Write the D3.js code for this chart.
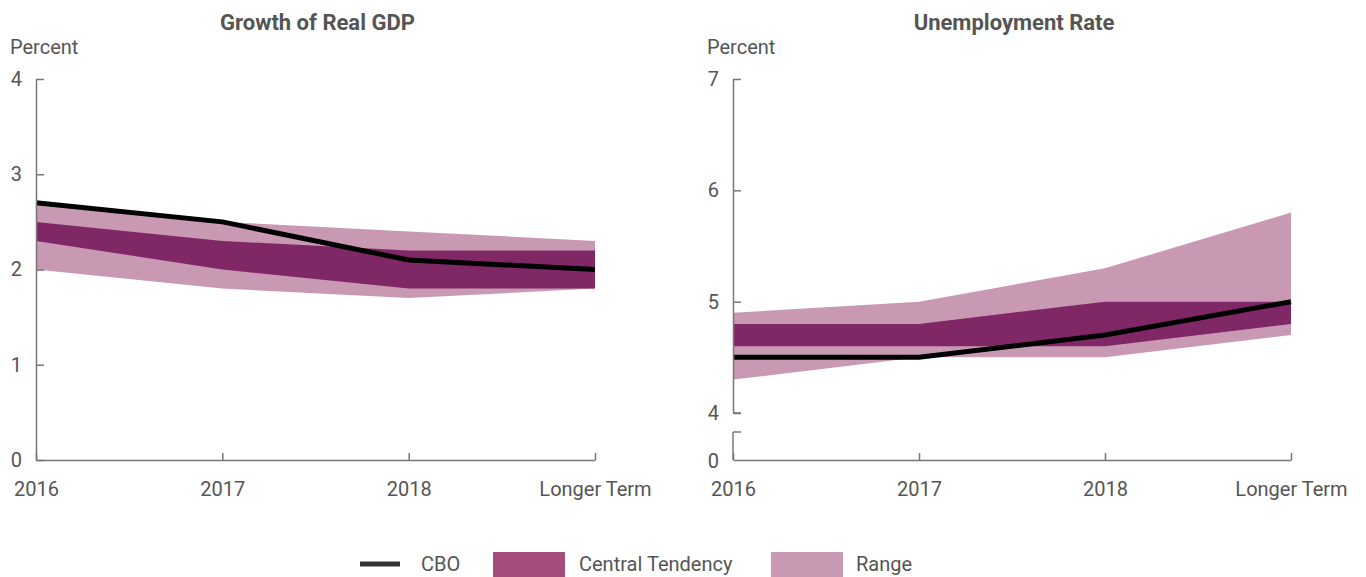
<html>
<head>
    <script src="https://d3js.org/d3.v7.min.js"></script>
    <style>
        body { margin: 0; background: #fff; }
        text { font-family: Roboto, "Noto Sans", sans-serif; fill: #555; }
        .axis path, .axis line { stroke: #777; stroke-width: 1.5; }
        .axis text { font-size: 20px; fill: #555; }
    </style>
</head>
<body>
    <svg id="chart" width="1366" height="577"></svg>
    <script>
        // categories shared by both panels
        var years = ["2016", "2017", "2018", "Longer Term"];

        // Growth of Real GDP
        var gdpCBO = [2.7, 2.5, 2.1, 2.0];
        var gdpRangeLow = [2.0, 1.8, 1.7, 1.8];
        var gdpRangeHigh = [2.7, 2.5, 2.4, 2.3];
        var gdpCentralLow = [2.3, 2.0, 1.8, 1.8];
        var gdpCentralHigh = [2.5, 2.3, 2.2, 2.2];
        var gdpTicks = [0, 1, 2, 3, 4];

        // Unemployment Rate
        var unCBO = [4.5, 4.5, 4.7, 5.0];
        var unRangeLow = [4.3, 4.5, 4.5, 4.7];
        var unRangeHigh = [4.9, 5.0, 5.3, 5.8];
        var unCentralLow = [4.6, 4.6, 4.6, 4.8];
        var unCentralHigh = [4.8, 4.8, 5.0, 5.0];
        var unTicks = [4, 5, 6, 7];

        var rangeColor = "#c998b3",
            centralColor = "#7f2865",
            centralLegend = "#a54c7b";

        var svg = d3.select("#chart");
        var baseY = 460, topY = 79;

        function panel(opts) {
            var x = d3.scalePoint().domain(years).range([opts.x0, opts.x1]);
            var y = d3.scaleLinear().domain(opts.domain).range([opts.bottom, topY]);
            var g = svg.append("g");

            function band(lo, hi, color) {
                var area = d3.area()
                    .x(function (d, i) { return x(years[i]); })
                    .y0(function (d, i) { return y(lo[i]); })
                    .y1(function (d, i) { return y(hi[i]); });
                g.append("path").datum(lo).attr("d", area).attr("fill", color);
            }
            band(opts.rLo, opts.rHi, rangeColor);
            band(opts.cLo, opts.cHi, centralColor);

            var line = d3.line()
                .x(function (d, i) { return x(years[i]); })
                .y(function (d) { return y(d); });
            g.append("path").datum(opts.cbo).attr("d", line)
                .attr("fill", "none").attr("stroke", "#000").attr("stroke-width", 5);

            // y axis
            g.append("g").attr("class", "axis")
                .attr("transform", "translate(" + opts.x0 + ",0)")
                .call(d3.axisLeft(y).tickValues(opts.ticks).tickSize(-8).tickSizeOuter(0).tickPadding(14)
                    .tickFormat(d3.format("d")));

            // x axis
            g.append("g").attr("class", "axis")
                .attr("transform", "translate(0," + baseY + ")")
                .call(d3.axisBottom(x).tickSize(-7).tickSizeOuter(0).tickPadding(22))
                .selectAll("text").attr("dy", "0.71em");

            g.append("text").attr("x", (opts.x0 + opts.x1) / 2 + 2).attr("y", 30)
                .attr("text-anchor", "middle").style("font-size", "22px").style("font-weight", "bold")
                .text(opts.title);
            g.append("text").attr("x", opts.x0 - 26).attr("y", 54)
                .style("font-size", "20px").text("Percent");

            if (opts.broken) {
                // axis break: lower stub from 0 up to the break tick
                var breakY = 432;
                g.append("line").attr("x1", opts.x0).attr("x2", opts.x0)
                    .attr("y1", breakY).attr("y2", baseY).attr("stroke", "#777").attr("stroke-width", 1.5);
                g.append("line").attr("x1", opts.x0).attr("x2", opts.x0 + 8)
                    .attr("y1", breakY).attr("y2", breakY).attr("stroke", "#777").attr("stroke-width", 1.5);
                g.append("line").attr("x1", opts.x0).attr("x2", opts.x0 + 8)
                    .attr("y1", y(opts.domain[0])).attr("y2", y(opts.domain[0])).attr("stroke", "#777").attr("stroke-width", 1.5);
                g.append("text").attr("x", opts.x0 - 14).attr("y", baseY + 2).attr("dy", "0.32em")
                    .attr("text-anchor", "end").style("font-size", "20px").text("0");
            }
        }

        panel({ x0: 36, x1: 595, domain: [0, 4], bottom: baseY, ticks: gdpTicks, title: "Growth of Real GDP",
            cbo: gdpCBO, rLo: gdpRangeLow, rHi: gdpRangeHigh, cLo: gdpCentralLow, cHi: gdpCentralHigh });
        panel({ x0: 733, x1: 1291, domain: [4, 7], bottom: 413, ticks: unTicks, title: "Unemployment Rate", broken: true,
            cbo: unCBO, rLo: unRangeLow, rHi: unRangeHigh, cLo: unCentralLow, cHi: unCentralHigh });

        // legend
        var legend = svg.append("g");
        legend.append("line").attr("x1", 360).attr("x2", 400).attr("y1", 564).attr("y2", 564)
            .attr("stroke", "#333").attr("stroke-width", 5);
        legend.append("text").attr("x", 421).attr("y", 571).style("font-size", "20px").text("CBO");
        legend.append("rect").attr("x", 493).attr("y", 552).attr("width", 72).attr("height", 25).attr("fill", centralLegend);
        legend.append("text").attr("x", 579).attr("y", 571).style("font-size", "20px").text("Central Tendency");
        legend.append("rect").attr("x", 771).attr("y", 552).attr("width", 72).attr("height", 25).attr("fill", rangeColor);
        legend.append("text").attr("x", 856).attr("y", 571).style("font-size", "20px").text("Range");
    </script>
</body>
</html>
